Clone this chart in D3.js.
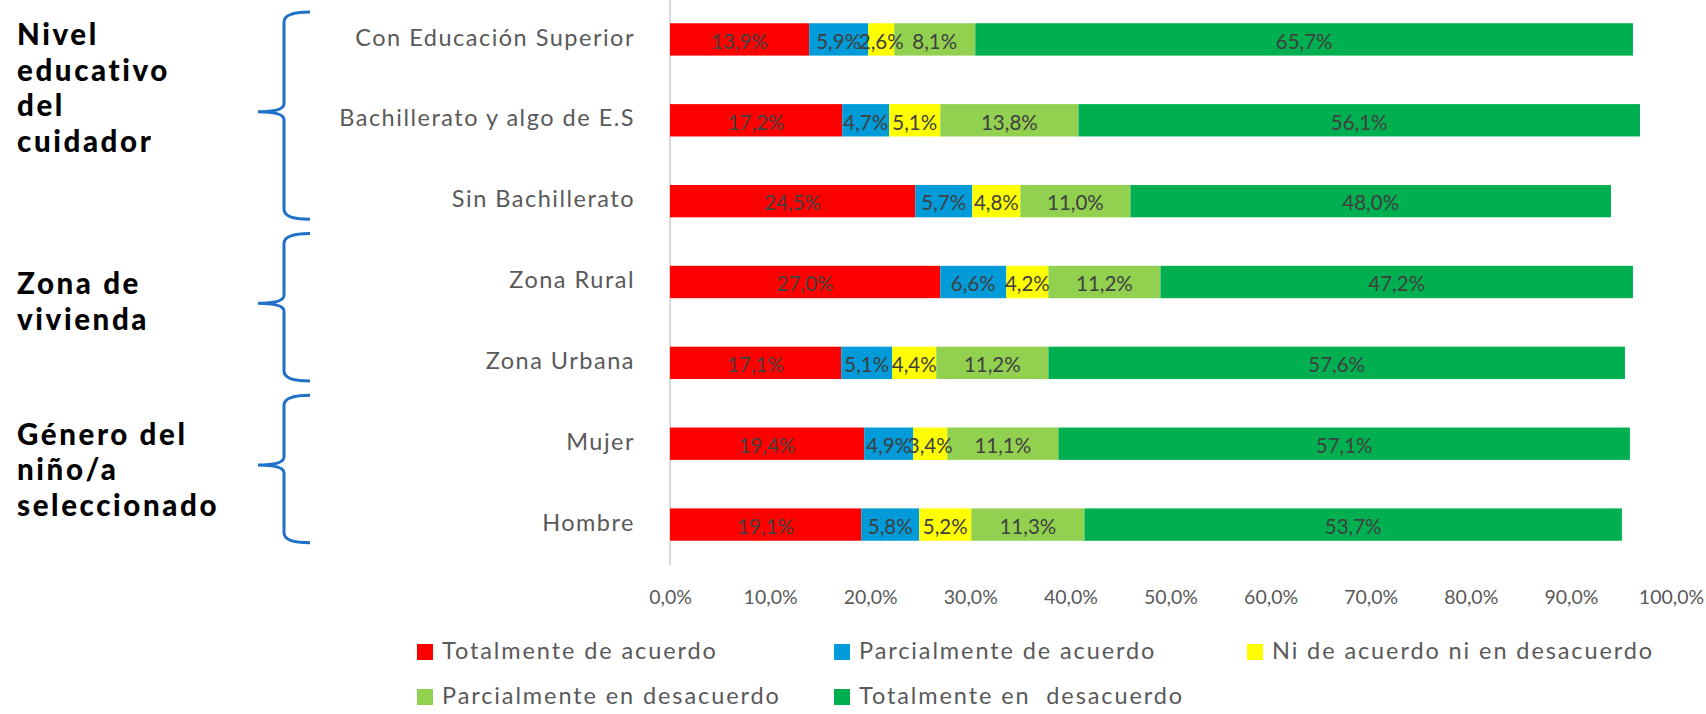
<!DOCTYPE html>
<html><head><meta charset="utf-8">
<script src="https://cdn.jsdelivr.net/npm/d3@7"></script>
<style>body{margin:0;background:#fff} svg{display:block}</style>
</head><body><svg id="chart" width="1706" height="714"></svg>
<script>
const categories = ["Con Educación Superior","Bachillerato y algo de E.S","Sin Bachillerato","Zona Rural","Zona Urbana","Mujer","Hombre"];
const seriesNames = ["Totalmente de acuerdo","Parcialmente de acuerdo","Ni de acuerdo ni en desacuerdo","Parcialmente en desacuerdo","Totalmente en  desacuerdo"];
const totalmenteDeAcuerdo      = [13.9, 17.2, 24.5, 27.0, 17.1, 19.4, 19.1];
const parcialmenteDeAcuerdo    = [5.9, 4.7, 5.7, 6.6, 5.1, 4.9, 5.8];
const niAcuerdoNiDesacuerdo    = [2.6, 5.1, 4.8, 4.2, 4.4, 3.4, 5.2];
const parcialmenteEnDesacuerdo = [8.1, 13.8, 11.0, 11.2, 11.2, 11.1, 11.3];
const totalmenteEnDesacuerdo   = [65.7, 56.1, 48.0, 47.2, 57.6, 57.1, 53.7];
const seriesColors = ["#FF0000","#009BD8","#FFFF00","#92D050","#00B050"];
const xTicks = [0,10,20,30,40,50,60,70,80,90,100];
const groupLabels = [["Nivel","educativo","del","cuidador"],["Zona de","vivienda"],["Género del","niño/a","seleccionado"]];
const groupFirst = [0,3,5];
const groupLast = [2,4,6];

const allSeries = [totalmenteDeAcuerdo, parcialmenteDeAcuerdo, niAcuerdoNiDesacuerdo, parcialmenteEnDesacuerdo, totalmenteEnDesacuerdo];
const rows = categories.map((c,i) => {
  const r = {cat:c};
  seriesNames.forEach((s,k) => r[s] = allSeries[k][i]);
  return r;
});
const stacked = d3.stack().keys(seriesNames)(rows);

const svg = d3.select("#chart");
const FONT = "Lato, 'Open Sans', sans-serif";
const x = d3.scaleLinear().domain([0,100]).range([670,1671]);
const y = d3.scaleBand().domain(categories).range([-1,565]).paddingInner(0.6).paddingOuter(0.3);
const loc = d3.formatLocale({decimal:",", thousands:".", grouping:[3], currency:["","€"]});
const pct = loc.format(".1f");

// vertical axis line
svg.append("line").attr("x1",x(0)).attr("x2",x(0)).attr("y1",0).attr("y2",565)
  .attr("stroke","#d9d9d9").attr("stroke-width",2);

// bars
const layers = svg.append("g").selectAll("g").data(stacked).join("g")
  .attr("fill",(d,i)=>seriesColors[i]);
layers.selectAll("rect").data(d=>d).join("rect")
  .attr("x",d=>x(d[0])).attr("width",d=>x(d[1])-x(d[0]))
  .attr("y",d=>y(d.data.cat)).attr("height",y.bandwidth());

// data labels
const lab = svg.append("g").attr("font-family",FONT).attr("font-size",20.5).attr("fill","#404040").attr("text-anchor","middle");
stacked.forEach(s => {
  lab.selectAll(null).data(s).join("text")
    .attr("x",d=>(x(d[0])+x(d[1]))/2)
    .attr("y",d=>y(d.data.cat)+y.bandwidth()/2)
    .attr("dy","0.45em")
    .text(d=>pct(d[1]-d[0])+"%");
});

// category axis
const ya = svg.append("g").attr("transform",`translate(${x(0)},0)`)
  .call(d3.axisLeft(y).tickSize(0).tickPadding(35));
ya.select(".domain").remove();
ya.selectAll("text").attr("font-family",FONT).attr("font-size",23.5).attr("fill","#595959")
  .attr("letter-spacing","1.5px").attr("dy","0.26em");

// x axis
const xa = svg.append("g").attr("transform","translate(0,565)")
  .call(d3.axisBottom(x).tickValues(xTicks).tickSize(0).tickPadding(25).tickFormat(v=>pct(v)+"%"));
xa.select(".domain").remove();
xa.selectAll("text").attr("font-family",FONT).attr("font-size",19.5).attr("fill","#595959");

// legend
const legCols = [417, 834, 1247], legRows = [652, 697];
const leg = svg.append("g").attr("font-family",FONT).attr("font-size",23.5).attr("fill","#595959");
seriesNames.forEach((s,i) => {
  const lx = legCols[i%3], ly = legRows[Math.floor(i/3)];
  leg.append("rect").attr("x",lx).attr("y",ly-8).attr("width",16).attr("height",16).attr("fill",seriesColors[i]);
  leg.append("text").attr("x",lx+25).attr("y",ly).attr("dy","0.28em")
    .attr("letter-spacing","1.9px").style("white-space","pre").text(s);
});

// group braces + labels
const step = y.step(), bw = y.bandwidth();
const lineGap = 35.6;
const labelShift = [0, -2, 5];
groupLabels.forEach((lines,g) => {
  const top = Math.max(12, y(categories[groupFirst[g]]) - 0.4*step);
  const bot = y(categories[groupLast[g]]) + bw + 2;
  const mid = (top+bot)/2 - 4;
  const xv = 284, xr = 310, xl = 258;
  const p = d3.path();
  p.moveTo(xr, top);
  p.quadraticCurveTo(xv, top, xv, top+10);
  p.lineTo(xv, mid-8);
  p.quadraticCurveTo(xv, mid, xl, mid);
  p.quadraticCurveTo(xv, mid, xv, mid+8);
  p.lineTo(xv, bot-10);
  p.quadraticCurveTo(xv, bot, xr, bot);
  svg.append("path").attr("d",p.toString()).attr("fill","none").attr("stroke","#1E70C8").attr("stroke-width",3);
  const blockCenter = (g === 0 ? top + 76 : mid) + labelShift[g];
  const ga = svg.append("g").attr("font-family",FONT).attr("font-weight",900)
    .attr("font-size",29.5).attr("letter-spacing","2.6px").attr("fill","#000");
  lines.forEach((ln,i) => ga.append("text").attr("x",17)
    .attr("y",blockCenter + (i-(lines.length-1)/2)*lineGap + 10.5).text(ln));
});
</script></body></html>
